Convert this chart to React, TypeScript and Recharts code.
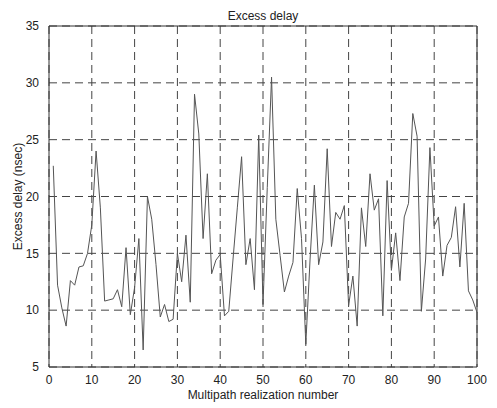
import React from "react";
import { LineChart, Line, XAxis, YAxis, CartesianGrid, ReferenceArea, Label } from "recharts";

const realizations: number[] = Array.from({ length: 100 }, (_, i) => i + 1);
const excessDelay: number[] = [
  22.7, 12.2, 10.2, 8.6, 12.6, 12.2, 13.8, 13.9, 15, 17.5,
  24, 19, 10.8, 10.9, 11, 11.8, 10.3, 15.5, 9.6, 12,
  16.3, 6.5, 20, 18, 14, 9.4, 10.5, 9, 9.2, 15,
  12.5, 16.6, 10.7, 29, 25.5, 16.3, 22, 13.2, 14.4, 14.9,
  9.5, 9.9, 14.5, 19, 23.5, 14, 16.3, 11.8, 25.4, 10.5,
  20.8, 30.5, 18, 14.8, 11.6, 13, 14.2, 20.7, 16.3, 7,
  14.5, 21, 14, 16, 24.2, 15.6, 18.6, 18, 19.2, 10.4,
  13, 8.6, 19, 15.6, 22, 18.8, 19.8, 9.5, 21.4, 13.5,
  16.8, 12.6, 18.2, 19.4, 27.3, 25.3, 9.9, 14.5, 24.3, 17.4,
  18.2, 13, 15.7, 16.4, 19.1, 13.8, 19.4, 11.7, 10.9, 9.8,
];
const xTicks: number[] = [0, 10, 20, 30, 40, 50, 60, 70, 80, 90, 100];
const yTicks: number[] = [5, 10, 15, 20, 25, 30, 35];

const data = realizations.map((x, i) => ({ x, y: excessDelay[i] }));

const font = "'Liberation Sans', Arial, sans-serif";

export default function App() {
  return (
    <div style={{ width: 480, height: 400, position: "relative", fontFamily: font }}>
      <div
        style={{
          position: "absolute",
          top: 1,
          left: 41,
          width: 428,
          textAlign: "center",
          fontSize: 12,
          color: "#222",
        }}
      >
        Excess delay
      </div>
      <LineChart width={480} height={400} data={data} margin={{ top: 18, right: 11, bottom: 0, left: 0 }}>
        <CartesianGrid strokeDasharray="8 5" stroke="#444" strokeWidth={1} />
        <XAxis
          dataKey="x"
          type="number"
          domain={[0, 100]}
          ticks={xTicks}
          tickLine={false}
          axisLine={false}
          height={41}
          tick={{ fontSize: 12, fill: "#222", fontFamily: font }}
          tickMargin={2}
        >
          <Label value="Multipath realization number" position="insideBottom" offset={9} style={{ fontSize: 12, fill: "#222", fontFamily: font }} />
        </XAxis>
        <YAxis
          type="number"
          domain={[5, 35]}
          ticks={yTicks}
          tickLine={false}
          axisLine={false}
          width={41}
          tick={{ fontSize: 12, fill: "#222", fontFamily: font }}
          tickMargin={4}
        >
          <Label value="Excess delay (nsec)" angle={-90} position="insideLeft" offset={10} style={{ fontSize: 12, fill: "#222", fontFamily: font, textAnchor: "middle" }} />
        </YAxis>
        <ReferenceArea x1={0} x2={100} y1={5} y2={35} fill="none" stroke="#333" strokeWidth={1} ifOverflow="visible" />
        <Line
          type="linear"
          dataKey="y"
          stroke="#555"
          strokeWidth={1}
          dot={false}
          isAnimationActive={false}
        />
      </LineChart>
    </div>
  );
}
